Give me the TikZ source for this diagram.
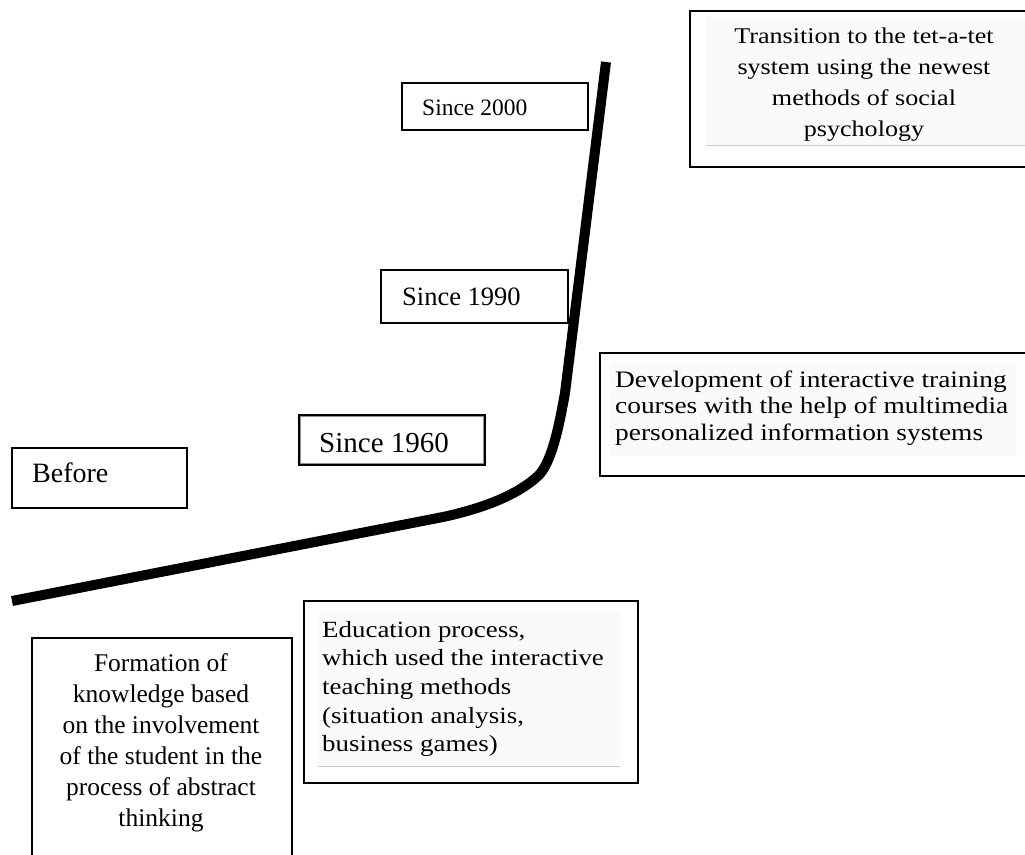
\documentclass[tikz,border=0pt]{standalone}
\usepackage{fontspec}
\setmainfont{Liberation Serif}
\newfontfamily\widerm[FakeStretch=1.16]{Liberation Serif}
\newcommand\textlines[2]{\begin{tabular}[t]{@{}#1@{}}#2\end{tabular}}
\begin{document}
\begin{tikzpicture}[x=1pt,y=-1pt,
  frame/.style={draw=black,line width=1.6pt,fill=white,inner sep=0pt,anchor=north west},
  txt/.style={inner sep=0pt,anchor=base west},
  ctxt/.style={inner sep=0pt,anchor=base},
  area/.style={fill=black!2,draw=none},
  rule/.style={draw=black!20,line width=0.8pt},
  trend/.style={line width=10pt,line join=round,line cap=butt}]
\useasboundingbox (0,0) rectangle (1025,854);
\clip (0,0) rectangle (1025,854);

% growth curve
\draw[trend] (12,601) -- (443,517)
  .. controls (480,509) and (517,496) .. (539,475)
  .. controls (553,460) and (560,420) .. (565,393)
  -- (606,62);

% stage boxes
\node[frame,minimum width=345pt,minimum height=156pt] (trans) at (689,10) {};
\fill[area] (706,17) rectangle (1025,145);
\draw[rule] (706,145) -- (1025,145);
\node[ctxt,font={\widerm\fontsize{22.5}{31.3}\selectfont}] (transtxt) at (864,43)
  {\textlines{c}{Transition to the tet-a-tet\\system using the newest\\methods of social\\psychology}};

\node[frame,minimum width=186pt,minimum height=47pt] (s2000) at (401,82) {};
\node[txt,font={\fontsize{23.5}{28}\selectfont}] (s2000txt) at (422,115) {Since 2000};

\node[frame,minimum width=187pt,minimum height=53pt] (s1990) at (380,269) {};
\node[txt,font={\fontsize{26.5}{30}\selectfont}] (s1990txt) at (402,305) {Since 1990};

\node[frame,minimum width=435pt,minimum height=123pt] (dev) at (599,352) {};
\fill[area] (610,362) rectangle (1017,456);
\node[txt,font={\widerm\fontsize{23.6}{26.5}\selectfont}] (devtxt) at (615,387)
  {\textlines{l}{Development of interactive training\\courses with the help of multimedia\\personalized information systems}};

\node[frame,minimum width=186pt,minimum height=50pt] (s1960) at (298,414) {};
\draw[black!45,line width=1pt] ([shift={(2.5pt,-2.5pt)}]s1960.north west)
  rectangle ([shift={(-2.5pt,2.5pt)}]s1960.south east);
\node[txt,font={\fontsize{29}{32}\selectfont}] (s1960txt) at (319,452) {Since 1960};

\node[frame,minimum width=175pt,minimum height=60pt] (before) at (11,447) {};
\node[txt,font={\fontsize{28}{32}\selectfont}] (beforetxt) at (32,482) {Before};

\node[frame,minimum width=260pt,minimum height=240pt] (form) at (31,637) {};
\node[ctxt,font={\fontsize{25.5}{31}\selectfont}] (formtxt) at (161,671)
  {\textlines{c}{Formation of\\knowledge based\\on the involvement\\of the student in the\\process of abstract\\thinking}};

\node[frame,minimum width=334pt,minimum height=182pt] (edu) at (303,600) {};
\fill[area] (318,612) rectangle (620,766);
\draw[rule] (318,766) -- (620,766);
\node[txt,font={\widerm\fontsize{23.2}{28.7}\selectfont}] (edutxt) at (322,637)
  {\textlines{l}{Education process,\\which used the interactive\\teaching methods\\(situation analysis,\\business games)}};
\end{tikzpicture}
\end{document}
